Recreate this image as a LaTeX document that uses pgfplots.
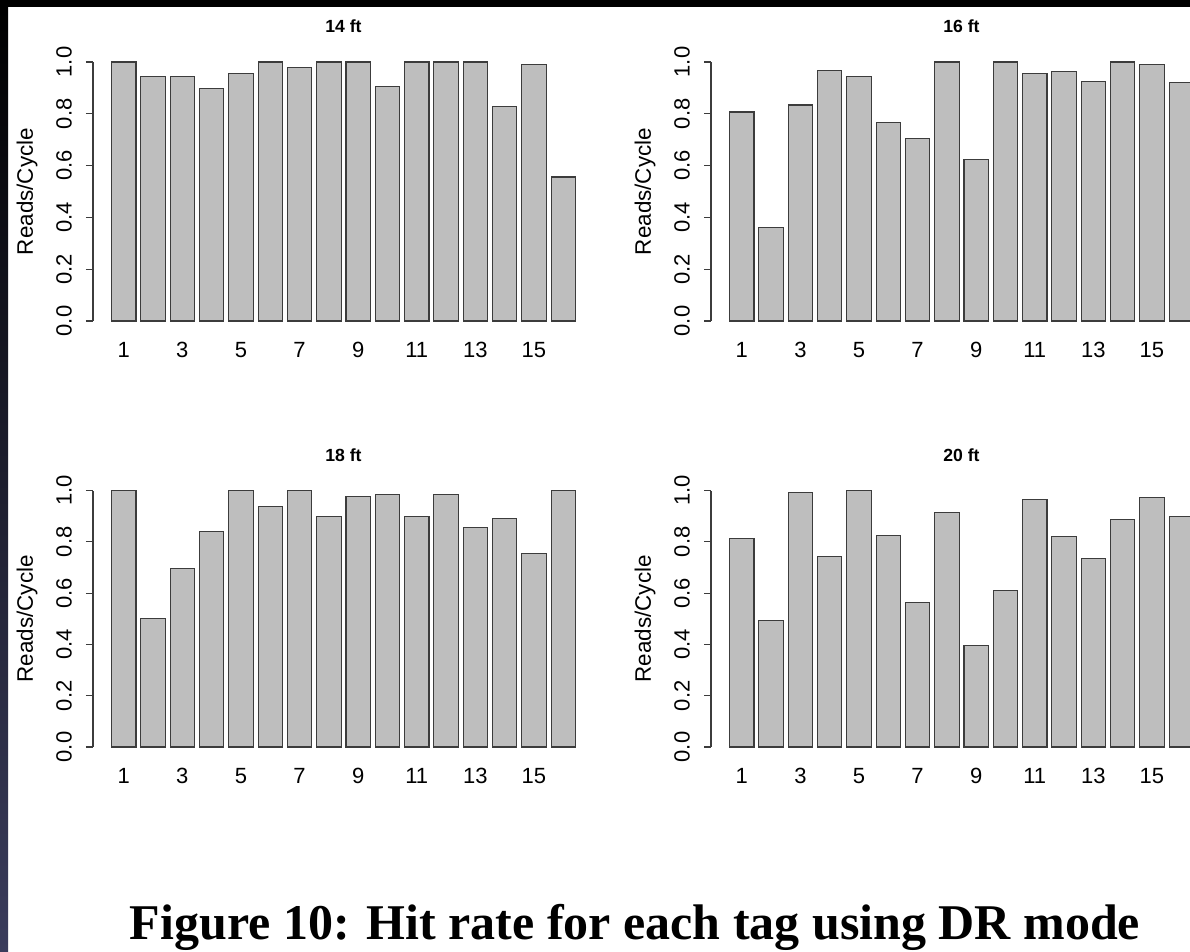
\documentclass[border=0pt]{standalone}
\usepackage{pgfplots}
\pgfplotsset{compat=1.18}
\usepackage{fontspec}
\setmainfont{Liberation Sans}
\newfontfamily\capfont{Liberation Serif}
\definecolor{barfill}{HTML}{BEBEBE}
\definecolor{barline}{HTML}{3C3C3C}
\definecolor{navy}{RGB}{58,60,92}

\pgfplotsset{
  rpanel/.style={
    scale only axis,
    x=14.65pt,
    xmin=-0.05, xmax=17.05,
    ymin=-0.04, ymax=1.04,
    axis lines*=left,
    axis line style={draw=none},
    ybar, bar width=0.8333,
    xtick={1,3,5,7,9,11,13,15},
    xticklabels={1,3,5,7,9,11,13,15},
    xtick style={draw=none},
    ytick={0,0.2,0.4,0.6,0.8,1},
    yticklabels={0.0,0.2,0.4,0.6,0.8,1.0},
    ytick style={draw=barline, line width=0.6pt},
    tick align=outside, major tick length=3.5pt,
    tick label style={font=\fontsize{11}{13}\selectfont},
    xticklabel style={anchor=center},
    xticklabel shift=5.8pt,
    yticklabel style={rotate=90, anchor=center},
    yticklabel shift=11pt,
    ylabel={Reads/Cycle},
    ylabel style={at={(axis description cs:-0.1317,0.5)}, anchor=center, font=\fontsize{11.2}{13}\selectfont},
    title style={at={(0.5,1)}, anchor=base, yshift=3.6pt, font=\bfseries\fontsize{8.8}{10}\selectfont},
    clip=false,
  },
  rbar/.style={fill=barfill, draw=barline, line width=0.55pt},
}

\begin{document}
\begin{tikzpicture}
\path[use as bounding box] (0,0) rectangle (595pt,476pt);
\clip (0,0) rectangle (595pt,476pt);
\fill[white] (0,0) rectangle (595pt,476pt);

% 14 ft
\begin{axis}[rpanel, y=129.5pt, at={(46.5pt,310.3pt)}, anchor=south west, title={14 ft}]
\addplot[rbar] coordinates {(1,1.00) (2,0.943) (3,0.943) (4,0.897) (5,0.956) (6,1.00) (7,0.978) (8,1.00) (9,1.00) (10,0.907) (11,1.00) (12,1.00) (13,1.00) (14,0.829) (15,0.990) (16,0.556)};
\draw[barline, line width=0.6pt] (axis cs:-0.05,0) -- (axis cs:-0.05,1);
\end{axis}

% 16 ft
\begin{axis}[rpanel, y=129.5pt, at={(355.5pt,310.3pt)}, anchor=south west, title={16 ft}]
\addplot[rbar] coordinates {(1,0.807) (2,0.361) (3,0.834) (4,0.966) (5,0.943) (6,0.765) (7,0.705) (8,1.00) (9,0.625) (10,1.00) (11,0.955) (12,0.962) (13,0.925) (14,1.00) (15,0.991) (16,0.920)};
\draw[barline, line width=0.6pt] (axis cs:-0.05,0) -- (axis cs:-0.05,1);
\end{axis}

% 18 ft
\begin{axis}[rpanel, y=128.25pt, at={(46.5pt,97.35pt)}, anchor=south west, title={18 ft}]
\addplot[rbar] coordinates {(1,1.00) (2,0.501) (3,0.696) (4,0.840) (5,1.00) (6,0.936) (7,1.00) (8,0.897) (9,0.975) (10,0.986) (11,0.899) (12,0.984) (13,0.857) (14,0.892) (15,0.756) (16,1.00)};
\draw[barline, line width=0.6pt] (axis cs:-0.05,0) -- (axis cs:-0.05,1);
\end{axis}

% 20 ft
\begin{axis}[rpanel, y=128.25pt, at={(355.5pt,97.35pt)}, anchor=south west, title={20 ft}]
\addplot[rbar] coordinates {(1,0.814) (2,0.495) (3,0.991) (4,0.743) (5,1.00) (6,0.823) (7,0.562) (8,0.915) (9,0.397) (10,0.611) (11,0.965) (12,0.822) (13,0.736) (14,0.888) (15,0.973) (16,0.899)};
\draw[barline, line width=0.6pt] (axis cs:-0.05,0) -- (axis cs:-0.05,1);
\end{axis}

\node[anchor=base, font=\capfont\bfseries\fontsize{25}{30}\selectfont] at (317.5pt,6pt) {Figure 10: Hit rate for each tag using DR mode};

\fill[black] (0,472.5pt) rectangle (595pt,476pt);
\shade[top color=black, bottom color=navy] (0,0) rectangle (4pt,472.5pt);
\end{tikzpicture}
\end{document}
